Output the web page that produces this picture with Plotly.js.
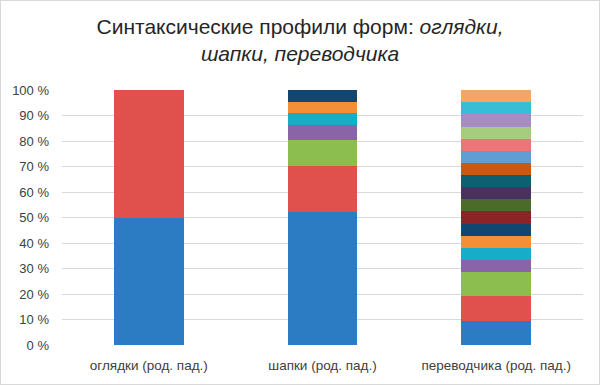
<!DOCTYPE html>
<html>
<head>
<meta charset="utf-8">
<script src="https://cdn.plot.ly/plotly-3.0.1.min.js"></script>
<style>
html,body{margin:0;padding:0;background:#fff;}
#wrap{width:600px;height:385px;box-sizing:border-box;border:1px solid #d9d9d9;overflow:hidden;}
</style>
</head>
<body>
<div id="wrap"><div id="chart"></div></div>
<script>
const categories = ['оглядки (род. пад.)', 'шапки (род. пад.)', 'переводчика (род. пад.)'];
const yTickVals = [0, 10, 20, 30, 40, 50, 60, 70, 80, 90, 100];
const yTickText = ['0 %', '10 %', '20 %', '30 %', '40 %', '50 %', '60 %', '70 %', '80 %', '90 %', '100 %'];

// segment shares (%) from bottom to top, one array per series
const s01 = [50, 52.0, 9.52];
const s02 = [50, 18.1, 9.52];
const s03 = [0, 10.4, 9.52];
const s04 = [0, 5.85, 4.76];
const s05 = [0, 4.55, 4.76];
const s06 = [0, 4.55, 4.76];
const s07 = [0, 4.55, 4.76];
const s08 = [0, 0, 4.76];
const s09 = [0, 0, 4.76];
const s10 = [0, 0, 4.76];
const s11 = [0, 0, 4.76];
const s12 = [0, 0, 4.76];
const s13 = [0, 0, 4.76];
const s14 = [0, 0, 4.76];
const s15 = [0, 0, 4.76];
const s16 = [0, 0, 4.76];
const s17 = [0, 0, 4.76];
const s18 = [0, 0, 4.76];

const series = [s01, s02, s03, s04, s05, s06, s07, s08, s09, s10, s11, s12, s13, s14, s15, s16, s17, s18];
const colors = ['#2B7CC2', '#E0504D', '#8CBD4F', '#8A64A9', '#17ADC9', '#F48F35',
                '#10466F', '#8A2427', '#4D6B28', '#4A3161', '#0E5F6F', '#C65A0D',
                '#5F9DD5', '#EA7676', '#A7CC7E', '#A78CC3', '#38BDD7', '#F4A562'];

const traces = series.map((v, i) => ({
  type: 'bar',
  x: categories,
  y: v,
  marker: {color: colors[i], line: {width: 0}},
  name: 'Серия ' + (i + 1),
  hoverinfo: 'skip'
}));

const layout = {
  width: 598,
  height: 383,
  barmode: 'stack',
  bargap: 0.6,
  showlegend: false,
  paper_bgcolor: '#ffffff',
  plot_bgcolor: '#ffffff',
  margin: {l: 61, r: 16, t: 88.5, b: 38.5},
  font: {family: 'Liberation Sans, Arial, sans-serif', color: '#404040'},
  title: {
    text: 'Синтаксические профили форм: <i>оглядки,</i><br><i>шапки, переводчика</i>',
    font: {size: 21, color: '#262626', family: 'Liberation Sans, Arial, sans-serif'},
    x: 0.5, xanchor: 'center', y: 0.915, yanchor: 'top'
  },
  xaxis: {
    type: 'category',
    showgrid: false,
    zeroline: false,
    showline: false,
    ticks: '',
    tickfont: {size: 13.5, color: '#404040'},
    ticklabelstandoff: 10
  },
  yaxis: {
    range: [0, 100],
    tickvals: yTickVals,
    ticktext: yTickText,
    showgrid: true,
    gridcolor: '#d9d9d9',
    gridwidth: 1,
    zeroline: false,
    showline: false,
    ticks: '',
    tickfont: {size: 13, color: '#404040'},
    ticklabelstandoff: 12,
    fixedrange: true
  }
};

Plotly.newPlot('chart', traces, layout, {displayModeBar: false, staticPlot: true});
</script>
</body>
</html>
